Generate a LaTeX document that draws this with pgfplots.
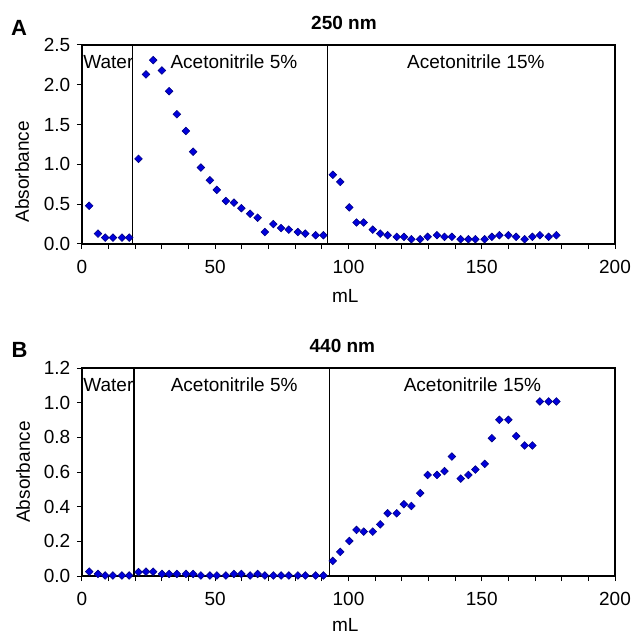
\documentclass[border=0pt]{standalone}
\usepackage{fontspec}
\setmainfont{Liberation Sans}
\usepackage{pgfplots}
\usepackage{pgfplotstable}
\pgfplotsset{compat=1.18}

\definecolor{markfill}{RGB}{0,0,220}
\definecolor{markedge}{RGB}{0,0,130}

% fraction volume (mL), absorbance at 250 nm and 440 nm
\pgfplotstableread{
x     a250  a440
2.7   0.48  0.025
6.0   0.13  0.012
8.7   0.08  0.003
11.6  0.08  0.003
15.0  0.08  0.003
17.7  0.08  0.003
21.2  1.07  0.023
24.0  2.13  0.025
26.7  2.31  0.025
30.0  2.18  0.012
32.7  1.92  0.012
35.6  1.63  0.012
39.0  1.42  0.012
41.7  1.16  0.012
44.6  0.96  0.003
48.0  0.80  0.003
50.6  0.68  0.003
54.0  0.54  0.003
57.0  0.52  0.012
59.8  0.45  0.012
63.1  0.38  0.003
65.9  0.33  0.012
68.6  0.15  0.003
71.8  0.25  0.003
74.7  0.20  0.003
77.6  0.18  0.003
81.0  0.15  0.003
83.8  0.13  0.003
87.7  0.11  0.003
90.6  0.11  0.003
94.1  0.87  0.087
96.9  0.78  0.139
100.3 0.46  0.202
103.0 0.27  0.266
105.7 0.27  0.256
109.1 0.18  0.256
111.9 0.13  0.298
114.7 0.11  0.362
118.1 0.09  0.362
120.8 0.09  0.414
123.6 0.06  0.404
126.9 0.06  0.478
129.7 0.09  0.583
133.2 0.11  0.583
136.0 0.09  0.605
138.8 0.09  0.689
142.1 0.06  0.562
145.0 0.06  0.583
147.6 0.06  0.614
151.1 0.06  0.647
153.8 0.09  0.795
156.6 0.11  0.901
160.0 0.11  0.901
162.9 0.09  0.807
166.1 0.06  0.753
169.0 0.09  0.753
171.8 0.11  1.007
175.1 0.09  1.007
178.0 0.11  1.007
}\fractions

\pgfplotsset{
  fracaxis/.style={
    scale only axis,
    width=266.5pt,
    xmin=0, xmax=200,
    xtick={0,50,...,200},
    minor xtick={10,20,...,190},
    tick align=outside,
    tick pos=left,
    major tick length=2.5pt,
    minor tick length=2.5pt,
    every tick/.style={black, line width=0.5pt},
    axis line style={line width=0.6pt},
    /pgf/number format/assume math mode=true,
    yticklabel style={/pgf/number format/.cd, fixed, fixed zerofill, precision=1},
    xticklabel style={yshift=-2.3pt},
    clip=false,
  },
  fracmarks/.style={
    only marks, mark=square*, mark size=1.35pt,
    mark options={rotate=45, fill=markfill, draw=markedge, line width=0.3pt},
  },
  divider/.style={black, line width=0.6pt, no marks},
}

\begin{document}
\fontsize{9.5}{11.4}\selectfont
\begin{tikzpicture}
\path[use as bounding box] (-41pt,-195.5pt) rectangle (274.5pt,122pt);

% panel A: 250 nm
\begin{axis}[fracaxis, at={(0,0)}, anchor=south west, height=99.5pt,
    ymin=0, ymax=2.5, ytick={0,0.5,...,2.5}]
\addplot[divider] coordinates {(19,0) (19,2.5)};
\addplot[divider] coordinates {(92,0) (92,2.5)};
\addplot[fracmarks] table[x=x, y=a250] {\fractions};
\node[anchor=west, inner sep=0pt] at ([xshift=0.5pt, yshift=-8.35pt]rel axis cs:0,1) {Water};
\node[inner sep=0pt] at ([yshift=-8.35pt]axis cs:57,2.5) {Acetonitrile 5\%};
\node[inner sep=0pt] at ([yshift=-8.35pt]axis cs:147.8,2.5) {Acetonitrile 15\%};
\node[inner sep=0pt, font=\bfseries] at ([yshift=11.2pt]axis cs:98.3,2.5) {250 nm};
\node[inner sep=0pt, font=\fontsize{11}{13}\selectfont\bfseries] at ([xshift=-31.5pt, yshift=8.75pt]rel axis cs:0,1) {A};
\node[inner sep=0pt, rotate=90] at ([xshift=-30pt]rel axis cs:0,0.363) {Absorbance};
\node[inner sep=0pt] at ([yshift=-26pt]axis cs:98.8,0) {mL};
\end{axis}

% panel B: 440 nm
\begin{axis}[fracaxis, at={(0,-166pt)}, anchor=south west, height=104pt,
    ymin=0, ymax=1.2, ytick={0,0.2,...,1.2}]
\addplot[divider] coordinates {(19.5,0) (19.5,1.2)};
\addplot[divider] coordinates {(93,0) (93,1.2)};
\addplot[fracmarks] table[x=x, y=a440] {\fractions};
\node[anchor=west, inner sep=0pt] at ([xshift=0.5pt, yshift=-8.5pt]rel axis cs:0,1) {Water};
\node[inner sep=0pt] at ([yshift=-8.5pt]axis cs:57.1,1.2) {Acetonitrile 5\%};
\node[inner sep=0pt] at ([yshift=-8.5pt]axis cs:146.5,1.2) {Acetonitrile 15\%};
\node[inner sep=0pt, font=\bfseries] at ([yshift=11pt]axis cs:97.7,1.2) {440 nm};
\node[inner sep=0pt, font=\fontsize{11}{13}\selectfont\bfseries] at ([xshift=-31.25pt, yshift=9pt]rel axis cs:0,1) {B};
\node[inner sep=0pt, rotate=90] at ([xshift=-29.4pt]rel axis cs:0,0.5) {Absorbance};
\node[inner sep=0pt] at ([yshift=-24.5pt]axis cs:98.8,0) {mL};
\end{axis}
\end{tikzpicture}
\end{document}
